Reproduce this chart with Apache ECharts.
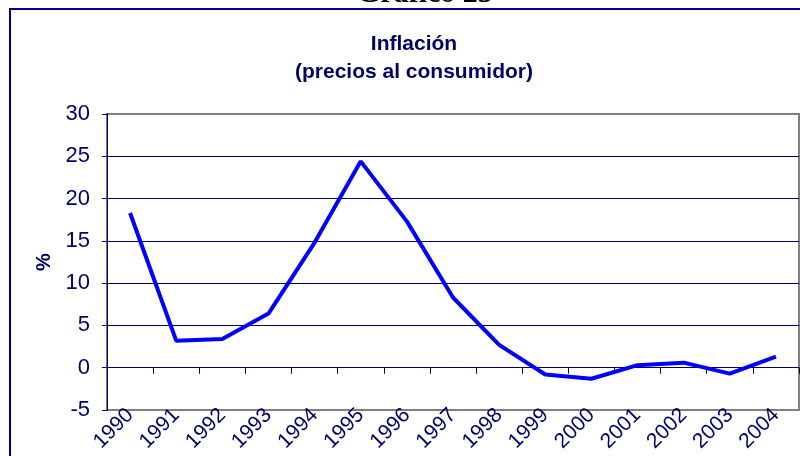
<!DOCTYPE html>
<html>
<head>
<meta charset="utf-8">
<title>Inflación</title>
<script src="https://cdn.jsdelivr.net/npm/echarts@6/dist/echarts.min.js"></script>
<style>
  html, body { margin: 0; padding: 0; background: #fff; }
  #chart { width: 800px; height: 456px; }
</style>
</head>
<body>
<div id="chart"></div>
<script>
// datos
var years = ['1990', '1991', '1992', '1993', '1994', '1995', '1996', '1997',
             '1998', '1999', '2000', '2001', '2002', '2003', '2004'];
var inflation = [18.3, 3.2, 3.4, 6.4, 14.8, 24.4, 17.3, 8.3,
                 2.7, -0.8, -1.3, 0.3, 0.6, -0.7, 1.3];

var navy = '#000066';
var font = 'Liberation Sans, Arial, sans-serif';

var myChart = echarts.init(document.getElementById('chart'));

var option = {
    animation: false,
    backgroundColor: '#fff',
    title: {
        text: 'Inflación\n(precios al consumidor)',
        left: 409,
        top: 25,
        textAlign: 'center',
        textStyle: {
            color: navy,
            fontFamily: font,
            fontWeight: 'bold',
            fontSize: 21,
            lineHeight: 28
        }
    },
    graphic: [
        // marco exterior
        {
            type: 'rect',
            shape: { x: 10, y: 9, width: 900, height: 600 },
            style: { fill: null, stroke: '#000080', lineWidth: 2 },
            z: 0
        },
        // encabezado cortado arriba
        {
            type: 'text',
            x: 357,
            y: 9,
            style: {
                text: 'Gráfico 25',
                font: 'bold 30px "Liberation Serif", "Times New Roman", serif',
                fill: '#000',
                verticalAlign: 'bottom'
            },
            z: 1
        }
    ],
    grid: {
        left: 107,
        right: 1,
        top: 114,
        bottom: 46,
        show: true,
        borderColor: '#808080',
        borderWidth: 2
    },
    xAxis: [
        {
            // etiquetas abajo
            type: 'category',
            data: years,
            position: 'bottom',
            axisLine: { show: false, onZero: false },
            axisTick: { show: false },
            axisLabel: {
                rotate: 45,
                margin: 2,
                color: navy,
                fontFamily: font,
                fontSize: 21
            }
        },
        {
            // eje en cero con marcas
            type: 'category',
            data: years,
            position: 'bottom',
            axisLine: { show: true, onZero: true, lineStyle: { color: navy, width: 1 } },
            axisTick: { show: true, length: 6, lineStyle: { color: navy } },
            axisLabel: { show: false }
        }
    ],
    yAxis: {
        type: 'value',
        min: -5,
        max: 30,
        interval: 5,
        name: '%',
        nameLocation: 'middle',
        nameGap: 52,
        nameTextStyle: {
            color: navy,
            fontFamily: font,
            fontWeight: 'bold',
            fontSize: 20
        },
        axisLine: { show: true, lineStyle: { color: navy, width: 1 } },
        axisTick: { show: true, length: 5, lineStyle: { color: navy } },
        axisLabel: {
            margin: 17,
            color: navy,
            fontFamily: font,
            fontSize: 22
        },
        splitLine: {
            show: true,
            showMinLine: false,
            showMaxLine: false,
            lineStyle: { color: navy, width: 1 }
        }
    },
    series: [
        {
            type: 'line',
            data: inflation,
            xAxisIndex: 0,
            symbol: 'none',
            lineStyle: { color: '#0000ff', width: 4 },
            itemStyle: { color: '#0000ff' }
        }
    ]
};

myChart.setOption(option);
</script>
</body>
</html>
